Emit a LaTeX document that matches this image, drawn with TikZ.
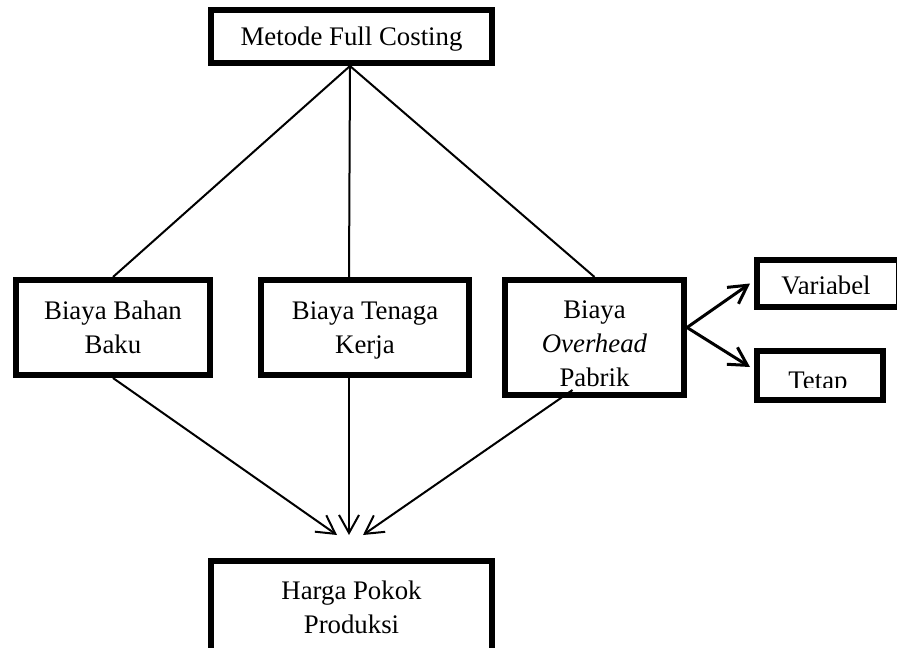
\documentclass[tikz,border=0pt]{standalone}
\usepackage{fontspec}
\setmainfont{Liberation Serif}
\usetikzlibrary{arrows.meta}

\tikzset{
  box/.style={draw, line width=3pt, inner sep=0pt, align=center, text depth=0pt},
  txt/.style={inner sep=0pt, align=center},
  link/.style={line width=1pt},
  flow/.style={line width=1pt, -{Straight Barb[length=9pt, width=10pt]}},
}

\begin{document}
\begin{tikzpicture}[x=0.5pt, y=-0.5pt, font=\fontsize{13.4}{17}\selectfont]
  \useasboundingbox (0,0) rectangle (897,647);

  % Boxes
  \node[box, minimum width=140.5pt, minimum height=26.5pt] (full) at (351.5,36.5) {Metode Full Costing};
  \node[box, minimum width=97pt, minimum height=47.5pt] (bahan) at (113,327.5) {Biaya Bahan\\Baku};
  \node[box, minimum width=104pt, minimum height=47.5pt] (tenaga) at (365,327.5) {Biaya Tenaga\\Kerja};
  \node[box, minimum width=89.5pt, minimum height=57.5pt] (ovh) at (594.5,337.5) {};
  \node[box, minimum width=71pt, minimum height=23.5pt] (var) at (828,283.5) {};
  \node[box, minimum width=63pt, minimum height=24.5pt] (tetap) at (820,375.5) {};
  \node[box, minimum width=140.5pt, minimum height=46pt] (hpp) at (351.5,607) {Harga Pokok\\Produksi};

  % Texts cut off by their boxes
  \begin{scope}
    \clip (505,280) rectangle (684,388);
    \node[txt, anchor=north] (ovh-t) at (594.5,300.3) {Biaya\\\textit{Overhead}\\Pabrik};
  \end{scope}
  \begin{scope}
    \clip (757,260) rectangle (897,293);
    \node[txt, anchor=base] (var-t) at (826,294) {Variabel};
  \end{scope}
  \begin{scope}
    \clip (757,351) rectangle (883,387);
    \node[txt, anchor=base] (tetap-t) at (818,389) {Tetap};
  \end{scope}

  % Lines from the method
  \draw[link] ([xshift=-0.75pt]full.south) -- (bahan.north);
  \draw[link] ([xshift=-0.75pt]full.south) -- ([xshift=-8pt]tenaga.north);
  \draw[link] ([xshift=-0.75pt]full.south) -- (ovh.north);

  % Arrows to the cost of production
  \draw[flow] (bahan.south) -- ([xshift=-7.25pt, yshift=11.5pt]hpp.north);
  \draw[flow] ([xshift=-8pt]tenaga.south) -- ([xshift=-1.25pt, yshift=11.5pt]hpp.north);
  \draw[flow] ([xshift=-11pt, yshift=4pt]ovh.south) -- ([xshift=5.75pt, yshift=11.5pt]hpp.north);

  % Overhead split
  \draw[flow, line width=1.5pt] ([yshift=5pt]ovh.east) -- ([xshift=-2pt]var.west);
  \draw[flow, line width=1.5pt] ([yshift=5pt]ovh.east) -- ([xshift=-2pt, yshift=4.25pt]tetap.west);
\end{tikzpicture}
\end{document}
